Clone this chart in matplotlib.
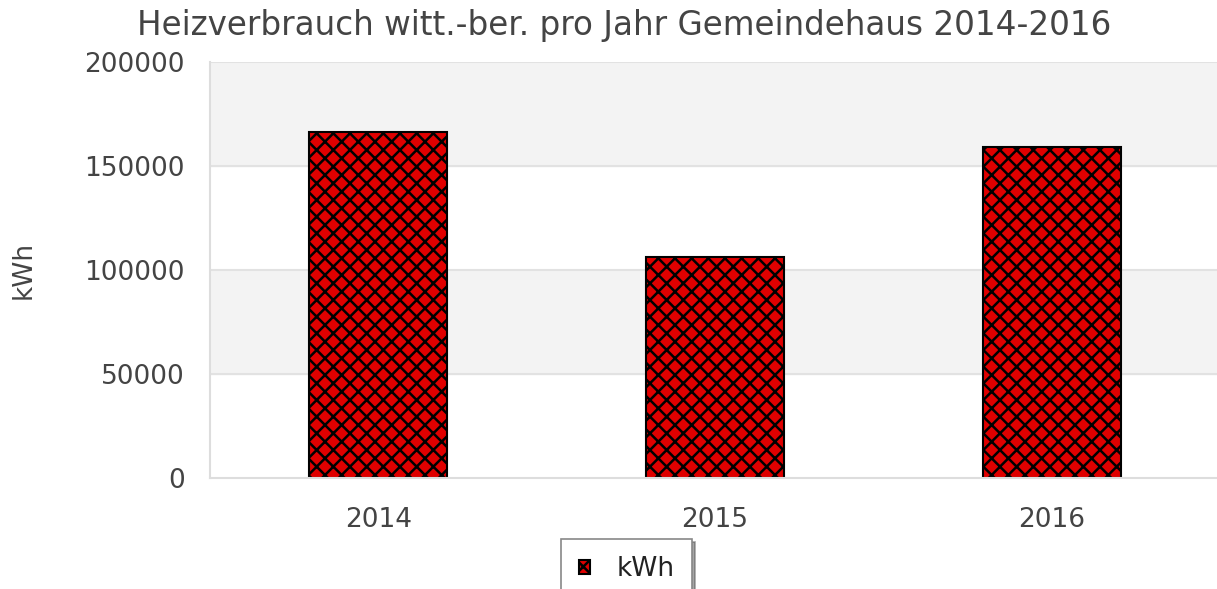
import matplotlib.pyplot as plt
import matplotlib as mpl

years = ["2014", "2015", "2016"]
kwh = [166500, 106200, 159300]
y_ticks = [0, 50000, 100000, 150000, 200000]

mpl.rcParams["hatch.color"] = "#2a0000"
mpl.rcParams["hatch.linewidth"] = 1.8

fig = plt.figure(figsize=(12.17, 5.89), dpi=100)
ax = fig.add_axes([0.1726, 0.1885, 0.83, 0.7062])

# alternating background bands
for i in range(len(y_ticks) - 1):
    if i % 2 == 1:
        ax.axhspan(y_ticks[i], y_ticks[i + 1], color="#f3f3f3", zorder=0)
for t in y_ticks[1:]:
    ax.axhline(t, color="#e2e2e2", lw=1.5, zorder=1)

x = range(len(years))
ax.bar(x, kwh, width=0.41, color="#e00000", edgecolor="black", linewidth=1.5,
       hatch="xx", zorder=2, label="kWh")

ax.set_xlim(-0.5, 2.5)
ax.set_ylim(0, 200000)
ax.set_yticks(y_ticks)
ax.set_yticklabels([str(v) for v in y_ticks])
ax.set_xticks(list(x))
ax.set_xticklabels(years)
ax.tick_params(length=0, labelsize=19, labelcolor="#444444")
ax.tick_params(axis="x", pad=21)
ax.tick_params(axis="y", pad=18)
for s in ["top", "right"]:
    ax.spines[s].set_visible(False)
for s in ["left", "bottom"]:
    ax.spines[s].set_color("#dddddd")
    ax.spines[s].set_linewidth(1.5)

ax.set_ylabel("kWh", fontsize=19, color="#444444")
ax.yaxis.set_label_coords(-0.172, 0.5)
fig.text(0.513, 0.957, "Heizverbrauch witt.-ber. pro Jahr Gemeindehaus 2014-2016",
         ha="center", va="center", fontsize=23.5, color="#444444")

leg = fig.legend(loc="upper center", bbox_to_anchor=(0.515, 0.085), fontsize=19,
                 frameon=True, fancybox=False, shadow=True, handlelength=0.45,
                 handleheight=0.45, borderpad=0.65, handletextpad=1.0,
                 borderaxespad=0, labelcolor="#222222")
leg.get_frame().set_edgecolor("#888888")
leg.get_frame().set_linewidth(1.2)

fig.savefig("out.png", dpi=100)
